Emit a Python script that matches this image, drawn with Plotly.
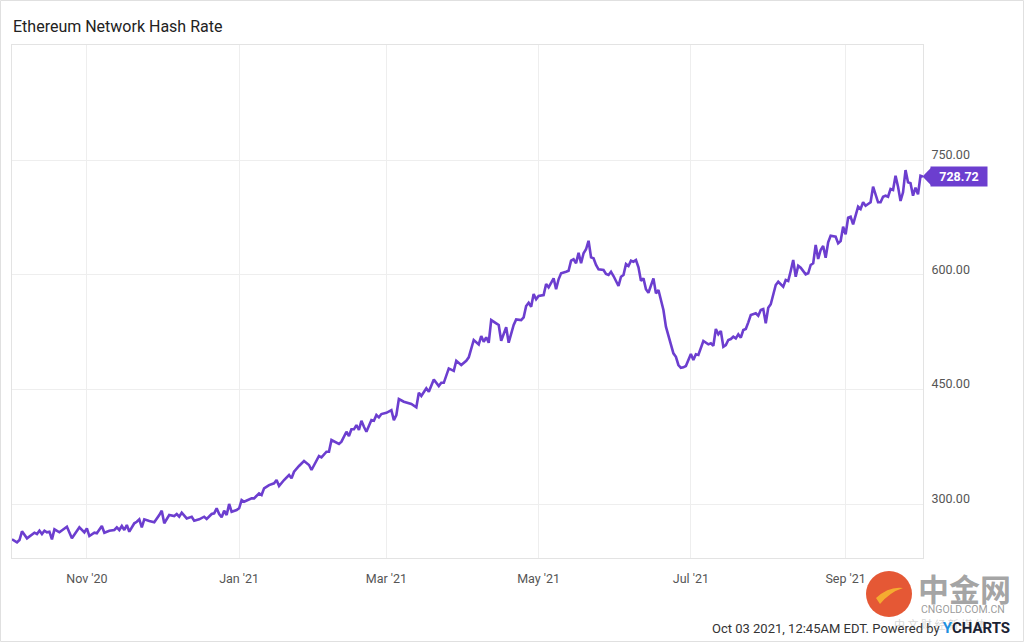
import plotly.graph_objects as go

title_text = "Ethereum Network Hash Rate"
last_label = "728.72"

dates = [
    "2020-10-02","2020-10-04","2020-10-05","2020-10-06","2020-10-08","2020-10-10","2020-10-11","2020-10-12",
    "2020-10-13","2020-10-14","2020-10-15","2020-10-16","2020-10-17","2020-10-18","2020-10-19","2020-10-21",
    "2020-10-22","2020-10-24","2020-10-26","2020-10-28","2020-10-29","2020-10-31","2020-11-01","2020-11-02",
    "2020-11-04","2020-11-05","2020-11-07","2020-11-08","2020-11-10","2020-11-12","2020-11-13","2020-11-14",
    "2020-11-15","2020-11-16","2020-11-17","2020-11-18","2020-11-19","2020-11-20","2020-11-21","2020-11-22",
    "2020-11-23","2020-11-24","2020-11-26","2020-11-28","2020-11-30","2020-12-01","2020-12-02","2020-12-04",
    "2020-12-06","2020-12-07","2020-12-08","2020-12-09","2020-12-11","2020-12-13","2020-12-14","2020-12-16",
    "2020-12-18","2020-12-19","2020-12-21","2020-12-22","2020-12-23","2020-12-24","2020-12-25","2020-12-26",
    "2020-12-27","2020-12-28","2020-12-29","2020-12-31","2021-01-01","2021-01-02","2021-01-03","2021-01-06",
    "2021-01-07","2021-01-09","2021-01-10","2021-01-11","2021-01-13","2021-01-15","2021-01-16","2021-01-17",
    "2021-01-19","2021-01-21","2021-01-22","2021-01-23","2021-01-25","2021-01-27","2021-01-29","2021-01-30",
    "2021-02-02","2021-02-03","2021-02-05","2021-02-06","2021-02-07","2021-02-10","2021-02-11","2021-02-13",
    "2021-02-14","2021-02-15","2021-02-16","2021-02-17","2021-02-18","2021-02-19","2021-02-20","2021-02-21",
    "2021-02-23","2021-02-24","2021-02-25","2021-02-26","2021-02-27","2021-03-01","2021-03-03","2021-03-04",
    "2021-03-05","2021-03-06","2021-03-08","2021-03-09","2021-03-11","2021-03-13","2021-03-14","2021-03-15",
    "2021-03-17","2021-03-18","2021-03-20","2021-03-22","2021-03-23","2021-03-24","2021-03-26","2021-03-28",
    "2021-03-29","2021-03-31","2021-04-02","2021-04-03","2021-04-04","2021-04-05","2021-04-07","2021-04-08",
    "2021-04-09","2021-04-10","2021-04-11","2021-04-12","2021-04-14","2021-04-15","2021-04-16","2021-04-18",
    "2021-04-19","2021-04-21","2021-04-22","2021-04-24","2021-04-25","2021-04-26","2021-04-27","2021-04-28",
    "2021-04-29","2021-04-30","2021-05-01","2021-05-03","2021-05-04","2021-05-05","2021-05-07","2021-05-08",
    "2021-05-09","2021-05-10","2021-05-12","2021-05-13","2021-05-14","2021-05-15","2021-05-16","2021-05-17",
    "2021-05-18","2021-05-19","2021-05-20","2021-05-21","2021-05-22","2021-05-23","2021-05-24","2021-05-25",
    "2021-05-27","2021-05-28","2021-05-29","2021-05-30","2021-05-31","2021-06-02","2021-06-03","2021-06-04",
    "2021-06-05","2021-06-06","2021-06-07","2021-06-08","2021-06-09","2021-06-10","2021-06-11","2021-06-12",
    "2021-06-13","2021-06-14","2021-06-16","2021-06-17","2021-06-18","2021-06-20","2021-06-21","2021-06-22",
    "2021-06-24","2021-06-25","2021-06-26","2021-06-27","2021-06-28","2021-06-29","2021-06-30","2021-07-01",
    "2021-07-02","2021-07-03","2021-07-04","2021-07-06","2021-07-08","2021-07-09","2021-07-10","2021-07-11",
    "2021-07-12","2021-07-13","2021-07-14","2021-07-15","2021-07-16","2021-07-17","2021-07-18","2021-07-19",
    "2021-07-20","2021-07-21","2021-07-22","2021-07-23","2021-07-24","2021-07-25","2021-07-27","2021-07-28",
    "2021-07-29","2021-07-30","2021-07-31","2021-08-01","2021-08-02","2021-08-03","2021-08-04","2021-08-05",
    "2021-08-07","2021-08-08","2021-08-09","2021-08-10","2021-08-11","2021-08-12","2021-08-13","2021-08-14",
    "2021-08-16","2021-08-17","2021-08-18","2021-08-19","2021-08-20","2021-08-21","2021-08-22","2021-08-23",
    "2021-08-24","2021-08-25","2021-08-26","2021-08-28","2021-08-29","2021-08-30","2021-08-31","2021-09-01",
    "2021-09-02","2021-09-03","2021-09-04","2021-09-06","2021-09-07","2021-09-08","2021-09-09","2021-09-11",
    "2021-09-12","2021-09-14","2021-09-15","2021-09-16","2021-09-17","2021-09-18","2021-09-19","2021-09-20",
    "2021-09-21","2021-09-22","2021-09-23","2021-09-24","2021-09-25","2021-09-26","2021-09-27","2021-09-28",
    "2021-09-29","2021-09-30","2021-10-01","2021-10-02",
]

hash_rate = [
    254.2,250.3,253.3,264.7,255.5,261.2,262.9,261.2,
    265.5,261.2,265.5,263.4,264.2,254.2,267.3,263.4,
    265.5,270.7,255.5,264.2,269.9,263.4,268.6,258.5,
    262.9,262.1,271.6,262.9,265.5,266.4,269.9,266.4,
    271.6,266.4,272.9,264.2,269.9,275.2,277.2,280.4,
    269.9,280.4,278.2,276.5,286.0,291.6,275.2,286.0,
    284.7,287.3,283.8,289.0,281.5,283.8,278.6,280.4,
    283.8,280.8,287.3,288.2,294.8,287.3,283.0,291.6,
    286.0,300.4,290.3,292.5,294.8,305.6,303.4,307.8,
    307.8,314.4,312.2,320.9,325.2,327.5,331.8,323.9,
    331.8,338.3,334.0,342.6,350.1,356.6,351.4,344.9,
    363.2,361.5,368.8,368.8,384.1,378.9,381.9,394.9,
    389.3,398.1,398.1,403.7,397.2,409.3,401.4,394.9,
    410.2,409.3,416.8,413.7,418.0,419.7,423.2,410.2,
    416.8,437.7,434.2,432.9,431.2,426.9,446.0,441.6,
    451.7,447.3,463.3,454.6,458.9,458.9,477.7,474.6,
    487.7,482.1,487.7,492.2,505.3,514.9,509.2,520.1,
    512.6,518.4,511.3,541.0,536.7,534.5,514.0,531.5,
    511.3,534.5,541.9,541.0,544.6,559.3,563.7,558.4,
    575.0,568.1,572.4,573.7,588.1,583.8,595.6,581.2,
    594.3,602.1,604.2,605.5,618.6,620.4,615.2,629.0,
    615.2,628.3,633.5,644.7,623.0,621.7,613.0,607.3,
    606.4,601.2,599.9,604.2,598.6,585.5,597.7,599.9,
    614.3,611.7,618.6,617.3,619.5,610.0,592.4,595.5,
    581.2,576.7,595.5,575.9,580.3,554.1,532.3,520.1,
    497.5,493.0,482.2,478.6,479.2,480.9,490.0,496.6,
    488.7,496.2,495.3,513.6,509.2,510.6,507.4,529.3,
    522.3,526.6,506.1,508.3,514.9,516.2,519.2,517.1,
    522.3,517.9,527.9,529.3,538.0,547.6,549.8,546.6,
    554.1,555.4,536.7,557.1,561.6,575.9,586.8,591.1,
    584.6,593.3,592.0,605.1,619.5,597.7,612.0,609.4,
    600.8,602.1,613.0,615.2,639.1,620.8,632.6,637.8,
    622.5,642.6,651.3,650.0,641.3,644.3,663.0,653.1,
    674.8,676.1,666.2,689.2,686.2,695.0,690.5,695.0,
    715.4,695.0,695.0,702.3,703.6,702.3,712.3,711.0,
    729.7,715.4,696.7,708.0,737.2,721.1,719.8,703.6,
    714.1,705.4,729.7,728.72,
]

x_tick_vals = ["2020-11-01", "2021-01-01", "2021-03-01", "2021-05-01", "2021-07-01", "2021-09-01"]
x_tick_text = ["Nov '20", "Jan '21", "Mar '21", "May '21", "Jul '21", "Sep '21"]
y_tick_vals = [300, 450, 600, 750]

PURPLE = "#6c3ecf"
FONT = "Roboto"

fig = go.Figure()
fig.add_trace(go.Scatter(
    x=dates, y=hash_rate, mode="lines",
    line=dict(color=PURPLE, width=2.6),
    hoverinfo="skip", showlegend=False,
))

L, R, T, B = 12, 101, 45, 84
PW, PH = 1024 - L - R, 642 - T - B

def px(xp):
    return (xp - L) / PW

def py(yp):
    return (642 - B - yp) / PH

fig.update_layout(
    width=1024, height=642,
    margin=dict(l=L, r=R, t=T, b=B),
    paper_bgcolor="white", plot_bgcolor="white",
    font=dict(family=FONT, size=12, color="#555555"),
    showlegend=False,
    xaxis=dict(
        type="date",
        range=["2020-10-02", "2021-10-02"],
        tickmode="array", tickvals=x_tick_vals, ticktext=x_tick_text,
        showgrid=True, gridcolor="#eeeeee", gridwidth=1,
        showline=True, linecolor="#e3e3e3", linewidth=1, mirror=True,
        ticks="", zeroline=False,
        ticklabelstandoff=9,
        tickfont=dict(family=FONT, size=12.5, color="#555555"),
    ),
    yaxis=dict(
        side="right",
        range=[229.8, 900.7],
        tickmode="array", tickvals=y_tick_vals, tickformat=".2f",
        showgrid=True, gridcolor="#eeeeee", gridwidth=1,
        showline=True, linecolor="#e3e3e3", linewidth=1, mirror=True,
        ticks="", zeroline=False,
        ticklabelposition="outside top",
        ticklabelstandoff=5,
        ticklabelshift=3,
        tickfont=dict(family=FONT, size=12.5, color="#555555"),
    ),
)

# outer frame of the picture
fig.add_shape(type="rect", xref="paper", yref="paper",
              x0=px(0.5), x1=px(1023.5), y0=py(641.5), y1=py(0.5),
              line=dict(color="#e0e0e0", width=1), layer="below")

# title
fig.add_annotation(xref="paper", yref="paper", x=px(11), y=py(27),
                   xanchor="left", yanchor="middle", showarrow=False,
                   text=title_text, font=dict(family=FONT, size=16, color="#222222"))

# last-value flag
last_val = hash_rate[-1]
fig.add_shape(type="path", xref="paper", yref="y",
              path=f"M {px(922.5)},{last_val} L {px(931)},{last_val + 11.5} L {px(931)},{last_val - 11.5} Z",
              fillcolor=PURPLE, line=dict(width=0))
fig.add_annotation(xref="paper", yref="y", x=px(930), y=last_val,
                   xanchor="left", yanchor="middle", showarrow=False,
                   text=f"<b>{last_label}</b>", bgcolor=PURPLE, borderpad=2,
                   width=52, height=15,
                   font=dict(family=FONT, size=12.5, color="white"))

# watermark
fig.add_shape(type="circle", xref="paper", yref="paper",
              x0=px(866), x1=px(912), y0=py(617), y1=py(571),
              fillcolor="#e2461f", line=dict(width=0), opacity=0.9)
fig.add_shape(type="path", xref="paper", yref="paper",
              path=f"M {px(876)},{py(598)} Q {px(889)},{py(586)} {px(903)},{py(588)} Q {px(890)},{py(592)} {px(880)},{py(604)} Z",
              fillcolor="#f6b530", line=dict(width=0), opacity=0.9)
fig.add_annotation(xref="paper", yref="paper", x=px(964), y=py(588),
                   xanchor="center", yanchor="middle", showarrow=False,
                   text="<b>中金网</b>", font=dict(family="Noto Sans CJK SC", size=31, color="rgba(125,125,125,0.7)"))
fig.add_annotation(xref="paper", yref="paper", x=px(963), y=py(609),
                   xanchor="center", yanchor="middle", showarrow=False,
                   text="CNGOLD.COM.CN", font=dict(family=FONT, size=10.5, color="rgba(130,130,130,0.8)"))
fig.add_annotation(xref="paper", yref="paper", x=px(940), y=py(624),
                   xanchor="center", yanchor="middle", showarrow=False,
                   text="中 文 财 经 新 媒 体", font=dict(family="Noto Sans CJK SC", size=11, color="rgba(150,150,150,0.4)"))

# footer
fig.add_annotation(xref="paper", yref="paper", x=px(1012), y=py(628),
                   xanchor="right", yanchor="middle", showarrow=False,
                   text="Oct 03 2021, 12:45AM EDT. Powered by <b><span style='color:#1e90e0;font-size:15px'>Y</span><span style='color:#1b2233;font-size:15px'>CHARTS</span></b>",
                   font=dict(family=FONT, size=13, color="#333333"))

fig.write_html("out.html", config={"displayModeBar": False},
               post_script="document.body.style.margin='0';document.body.style.overflow='hidden';")
